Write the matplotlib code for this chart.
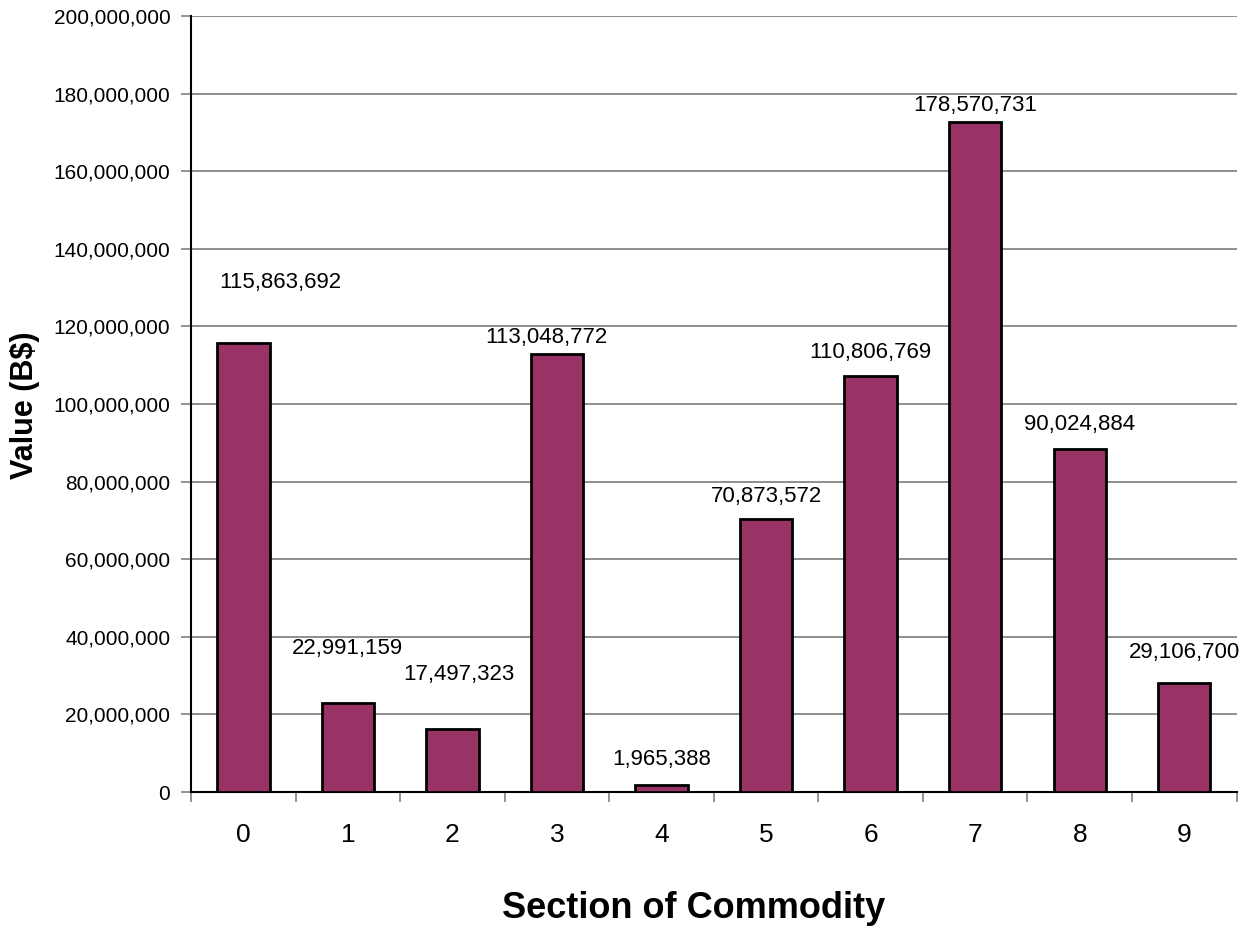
import numpy as np
import matplotlib.pyplot as plt
from matplotlib.ticker import FuncFormatter, MultipleLocator

plt.rcParams['font.family'] = ['Liberation Sans', 'DejaVu Sans']

# data
sections = [0, 1, 2, 3, 4, 5, 6, 7, 8, 9]
bar_heights = [115.6e6, 22.9e6, 16.2e6, 113.0e6, 1.8e6, 70.4e6, 107.2e6, 172.7e6, 88.4e6, 28.2e6]
value_labels = ['115,863,692', '22,991,159', '17,497,323', '113,048,772', '1,965,388',
                '70,873,572', '110,806,769', '178,570,731', '90,024,884', '29,106,700']
# where the value labels sit (height in B$, shift in bar units)
label_y = [131.2e6, 37.0e6, 30.3e6, 117.2e6, 8.3e6, 76.2e6, 113.4e6, 176.9e6, 94.8e6, 36.0e6]
label_dx = [0.355, 0, 0.06, -0.1, 0, 0, 0, 0, 0, 0]

fig = plt.figure(figsize=(12.49, 9.26), dpi=100, facecolor='w')
ax = fig.add_axes([0.153, 0.1447, 0.837, 0.838])

x = np.arange(len(sections))
ax.bar(x, bar_heights, width=0.5, color='#993366', edgecolor='black', linewidth=2, zorder=3)

for i in range(len(sections)):
    ax.text(x[i] + label_dx[i], label_y[i], value_labels[i], ha='center', va='center',
            fontsize=16, color='black', zorder=4)

ax.set_xlim(-0.5, len(sections) - 0.5)
ax.set_ylim(0, 200e6)
ax.yaxis.set_major_locator(MultipleLocator(20e6))
ax.yaxis.set_major_formatter(FuncFormatter(lambda v, p: f'{int(v):,}'))
ax.grid(axis='y', color='#707070', linewidth=1.1, zorder=0)
ax.set_axisbelow(True)

ax.set_xticks(x)
ax.set_xticklabels([str(s) for s in sections])
ax.set_xticks(np.arange(-0.5, len(sections)), minor=True)
ax.tick_params(axis='x', which='major', length=0, labelsize=19, pad=22)
ax.tick_params(axis='x', which='minor', length=7, color='#808080', width=1.2)
ax.tick_params(axis='y', length=7, color='#808080', width=1.2, labelsize=15, pad=8)

for side in ['top', 'right']:
    ax.spines[side].set_visible(False)
ax.spines['left'].set_linewidth(1.5)
ax.spines['bottom'].set_linewidth(1.5)

fig.text(0.555, 1 - 908 / 926, 'Section of Commodity', fontsize=26, fontweight='bold',
         ha='center', va='center')
fig.text(25 / 1249, 1 - 405 / 926, 'Value (B$)', fontsize=22, fontweight='bold',
         ha='center', va='center', rotation=90)

fig.savefig('out.png', dpi=100)
